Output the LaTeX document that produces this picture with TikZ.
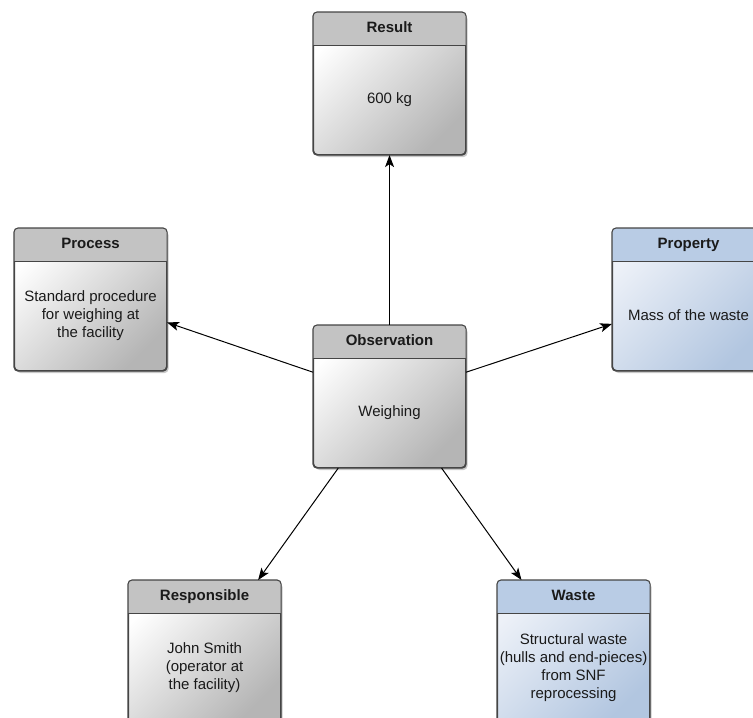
\documentclass[tikz,border=0pt]{standalone}
\usepackage{fontspec}
\setmainfont{Liberation Sans}
\usetikzlibrary{calc,shadows,arrows.meta}

\definecolor{edge}{HTML}{454545}
\definecolor{grayhead}{HTML}{C3C3C3}
\definecolor{graylow}{HTML}{B5B5B5}
\definecolor{bluehead}{HTML}{B9CCE5}
\definecolor{bluetop}{HTML}{EDF1F8}
\definecolor{bluelow}{HTML}{B2C6E0}
\definecolor{ink}{HTML}{1A1A1A}

\tikzset{
  card/.style={draw=edge, line width=1.1pt, rounded corners=4pt,
    minimum width=152pt, minimum height=142pt, inner sep=0pt, anchor=north west,
    drop shadow={shadow xshift=2pt, shadow yshift=-2.5pt, opacity=0.3, fill=black!70}},
  graycard/.style={card, top color=white, bottom color=graylow, shading angle=45},
  bluecard/.style={card, top color=bluetop, bottom color=bluelow, shading angle=45},
  cardtitle/.style={font=\fontsize{15}{18}\selectfont\bfseries, text=ink,
    text height=11pt, text depth=3pt},
  cardbody/.style={font=\fontsize{15}{18}\selectfont, align=center, text=ink},
  divider/.style={draw=edge, line width=1pt},
  link/.style={draw=black, line width=1pt, -{Stealth[length=12pt,width=9pt,inset=3pt]}},
}

% #1 name, #2 left x, #3 top y, #4 card style, #5 header colour, #6 title, #7 body
\newcommand\umlcard[7]{%
  \node[#4] (#1) at (#2,#3) {};
  \begin{scope}
    \clip[rounded corners=4pt] (#1.north west) rectangle (#1.south east);
    \fill[#5] (#1.north west) rectangle ($(#1.north east)+(0,33)$);
  \end{scope}
  \draw[divider] ($(#1.north west)+(0,33)$) -- ($(#1.north east)+(0,33)$);
  \draw[draw=edge, line width=1.1pt, rounded corners=4pt] (#1.north west) rectangle (#1.south east);
  \node[cardtitle] (#1-title) at ($(#1.north)+(0,16.5)$) {#6};
  \node[cardbody] (#1-body) at ($(#1.north)+(0,87.5)$) {#7};
}

\begin{document}
\begin{tikzpicture}[x=1pt, y=-1pt]
  \useasboundingbox (0,0) rectangle (753,718);
  \clip (0,0) rectangle (753,718);

  \umlcard{result}{313}{12}{graycard}{grayhead}{Result}{600 kg}
  \umlcard{obs}{313}{325}{graycard}{grayhead}{Observation}{Weighing}
  \umlcard{process}{14}{228}{graycard}{grayhead}{Process}{Standard procedure\\for weighing at\\the facility}
  \umlcard{property}{612}{228}{bluecard}{bluehead}{Property}{Mass of the waste}
  \umlcard{resp}{128}{580}{graycard}{grayhead}{Responsible}{John Smith\\(operator at\\the facility)}
  \umlcard{waste}{497}{580}{bluecard}{bluehead}{Waste}{Structural waste\\(hulls and end-pieces)\\from SNF\\reprocessing}

  % connector end points on the card borders
  \coordinate (obs-w) at ($(obs.north west)!0.33!(obs.south west)$);
  \coordinate (obs-e) at ($(obs.north east)!0.33!(obs.south east)$);
  \coordinate (obs-sw) at ($(obs.south west)!0.165!(obs.south east)$);
  \coordinate (obs-se) at ($(obs.south west)!0.84!(obs.south east)$);
  \coordinate (process-e) at ($(process.north east)!0.66!(process.south east)$);
  \coordinate (property-w) at ($(property.north west)!0.67!(property.south west)$);
  \coordinate (resp-n) at ($(resp.north west)!0.85!(resp.north east)$);
  \coordinate (waste-n) at ($(waste.north west)!0.16!(waste.north east)$);

  \draw[link] (obs.north) -- (result.south);
  \draw[link] (obs-w) -- (process-e);
  \draw[link] (obs-e) -- (property-w);
  \draw[link] (obs-sw) -- (resp-n);
  \draw[link] (obs-se) -- (waste-n);
\end{tikzpicture}
\end{document}
